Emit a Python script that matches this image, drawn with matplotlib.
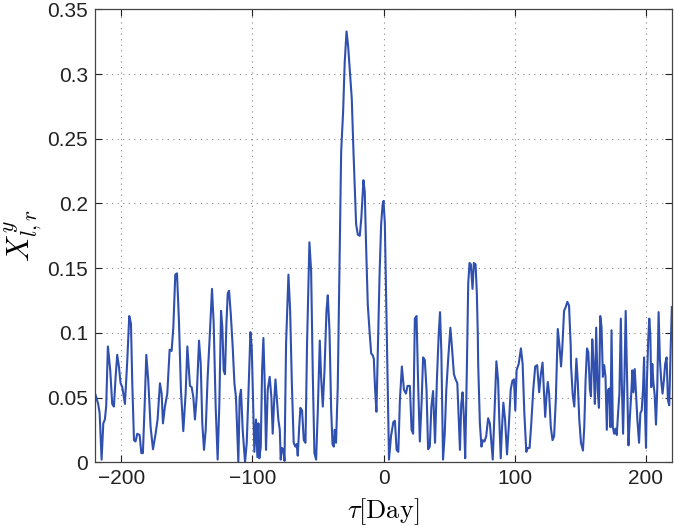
import matplotlib
matplotlib.use('Agg')
import matplotlib.pyplot as plt

# lag in days and the cross-correlation value
tau = [-219.6, -217.6, -216.5, -215.0, -213.7, -212.5, -211.5, -210.2, -208.4, -206.9,
       -205.6, -204.3, -203.1, -201.8, -200.5, -199.2, -197.2, -195.4, -193.9, -192.6,
       -191.6, -190.3, -189.1, -187.8, -186.0, -184.7, -183.5, -182.2, -180.9, -179.4,
       -177.6, -175.8, -173.8, -172.3, -170.5, -169.2, -168.2, -166.7, -164.9, -163.1,
       -161.6, -160.3, -158.8, -157.5, -156.0, -154.5, -152.7, -150.9, -149.6,
       -147.6, -146.3, -145.0, -143.8, -142.5, -140.7, -139.4, -138.2, -136.9, -135.6,
       -134.1, -132.3, -130.8, -129.5, -128.0, -126.5, -125.2, -123.9, -122.9, -121.9,
       -120.9, -119.8, -118.8, -117.8, -116.5, -115.0, -113.7, -112.5, -110.7, -109.7,
       -108.7, -107.4, -105.6, -104.3, -103.1, -101.5, -100.5, -99.5, -98.5, -97.2,
       -96.2, -95.4, -94.7, -93.6, -92.6, -91.6, -90.6, -89.6, -88.3, -86.8,
       -85.5, -84.5, -83.5, -82.4, -81.4, -80.2, -79.1, -78.4, -77.4, -76.3,
       -75.5, -74.3, -72.5, -71.2, -69.9, -68.5, -67.2, -66.2, -65.4, -64.4,
       -63.4, -62.1, -60.8, -59.5, -58.3, -56.5, -55.2, -53.9, -52.7, -51.4,
       -50.1, -48.6, -47.6, -46.3, -45.0, -43.5, -42.5, -41.2, -39.9, -38.9,
       -37.9, -37.2, -36.2, -34.9, -33.7, -32.3, -30.8, -29.6, -28.2, -27.0,
       -25.5, -24.2, -22.9, -21.9, -20.9, -19.6, -18.1, -16.9, -15.3, -14.3,
       -13.3, -12.0, -10.7, -9.4, -8.4, -7.4, -6.4, -5.4, -4.2, -3.0,
       -1.8, -0.7, 0.0, 1.0, 2.3, 4.2,
       5.7, 7.5, 8.7, 10.0, 11.3, 12.5, 14.0, 15.6, 17.1, 18.3,
       20.1, 21.4, 22.6, 23.9, 25.2, 26.4, 27.7, 29.0, 30.2, 31.5,
       32.8, 34.0, 35.3, 36.5, 37.8, 39.3, 40.8, 42.1, 43.1, 44.1,
       45.4, 46.7, 47.9, 49.4, 51.0, 52.2, 53.7, 55.0, 56.3, 57.3,
       58.3, 59.3, 60.3, 61.3, 62.3, 63.6, 64.6, 65.6, 66.6, 67.9,
       68.9, 70.2, 71.2, 71.9,
       72.2, 73.5, 74.7, 75.7, 77.0, 78.3, 79.8, 81.1, 82.1, 83.3,
       84.8, 86.1, 87.4, 88.4, 89.4, 90.4, 91.4, 92.7, 94.2, 95.5,
       97.0, 98.3, 99.5, 100.5, 101.5, 103.1, 104.8, 106.1, 107.4, 108.9,
       110.1, 111.4, 112.7, 114.2, 115.7, 117.2, 118.7, 120.0, 121.3, 122.3,
       123.3, 124.3, 125.3, 126.3, 127.6, 128.9, 130.1, 131.4, 132.9, 134.2,
       135.4, 136.4, 137.7, 139.0, 140.2, 141.5, 142.8, 143.0, 144.3, 145.5,
       147.1, 148.1, 149.3, 150.6, 152.1, 153.1, 154.1, 155.2, 156.2, 157.4,
       158.2, 159.2, 160.2, 161.2, 162.2, 163.3, 164.3, 165.3, 166.3, 167.3,
       168.3, 169.3, 170.3, 171.3, 172.4, 173.1, 173.9, 174.9, 175.9, 176.9,
       177.9, 178.9, 179.9, 181.0, 181.7, 182.7, 183.7, 184.7, 185.8, 186.8,
       187.8, 189.1, 189.8, 190.6, 191.6, 192.6, 193.6, 194.9, 195.9, 196.9,
       197.9, 198.7, 199.4, 200.2, 200.9, 201.9, 202.7, 203.5, 204.2, 205.0,
       205.7, 206.8, 207.8, 208.8, 209.8, 210.8, 211.8, 212.8, 213.8, 214.8,
       215.9, 216.9, 217.9, 218.9, 219.9]

xcorr = [0.052, 0.045, 0.038, 0.002, 0.030, 0.033, 0.043, 0.0895, 0.071, 0.045,
         0.043, 0.066, 0.083, 0.074, 0.061, 0.058, 0.045, 0.079, 0.113, 0.107,
         0.061, 0.017, 0.016, 0.022, 0.021, 0.007, 0.007, 0.043, 0.083, 0.063,
         0.027, 0.010, 0.022, 0.033, 0.061, 0.053, 0.030, 0.043, 0.053, 0.087,
         0.086, 0.104, 0.145, 0.146, 0.109, 0.056, 0.024, 0.053, 0.0895,
         0.059, 0.058, 0.050, 0.033, 0.050, 0.094, 0.076, 0.030, 0.0095, 0.025,
         0.066, 0.102, 0.134, 0.107, 0.043, 0.002, 0.045, 0.117, 0.104, 0.071,
         0.068, 0.107, 0.1305, 0.1326, 0.115, 0.089, 0.061, 0.050, 0.0, 0.050,
         0.056, 0.025, 0.0, 0.015, 0.050, 0.1005, 0.089, 0.050, 0.008, 0.033,
         0.004, 0.030, 0.003, 0.012, 0.071, 0.096, 0.061, 0.0095, 0.056, 0.066,
         0.050, 0.022, 0.045, 0.064, 0.050, 0.033, 0.025, 0.002, 0.011, 0.0095,
         0.001, 0.092, 0.145, 0.117, 0.061, 0.015, 0.012, 0.014, 0.005, 0.025,
         0.042, 0.040, 0.017, 0.015, 0.092, 0.170, 0.148, 0.066, 0.007, 0.002,
         0.040, 0.094, 0.066, 0.043, 0.071, 0.117, 0.129, 0.102, 0.040, 0.014,
         0.012, 0.025, 0.015, 0.058, 0.143, 0.240, 0.271, 0.309, 0.333, 0.322,
         0.300, 0.281, 0.240, 0.212, 0.184, 0.176, 0.175, 0.189, 0.218, 0.209,
         0.168, 0.122, 0.102, 0.084, 0.083, 0.080, 0.056, 0.039, 0.092, 0.145,
         0.184, 0.199, 0.202, 0.185, 0.110, 0.002,
         0.020, 0.031, 0.032, 0.0095, 0.008, 0.048, 0.074, 0.056, 0.053, 0.059,
         0.059, 0.025, 0.022, 0.111, 0.113, 0.061, 0.016, 0.045, 0.081, 0.079,
         0.056, 0.010, 0.012, 0.043, 0.055, 0.015, 0.066, 0.099, 0.116, 0.086,
         0.002, 0.022, 0.056, 0.081, 0.104, 0.089, 0.068, 0.064, 0.061, 0.035,
         0.0095, 0.045, 0.054, 0.035, 0.003, 0.074, 0.138, 0.154, 0.153, 0.134,
         0.154, 0.153, 0.130, 0.099,
         0.076, 0.030, 0.012, 0.017, 0.016, 0.020, 0.034, 0.030, 0.017, 0.002,
         0.043, 0.078, 0.063, 0.030, 0.003, 0.027, 0.046, 0.033, 0.006, 0.027,
         0.056, 0.063, 0.064, 0.040, 0.071, 0.076, 0.088, 0.076, 0.038, 0.008,
         0.011, 0.011, 0.030, 0.056, 0.074, 0.075, 0.054, 0.068, 0.077, 0.056,
         0.035, 0.051, 0.062, 0.053, 0.027, 0.017, 0.020, 0.048, 0.103, 0.090,
         0.074, 0.089, 0.117, 0.120, 0.124, 0.121, 0.089, 0.075, 0.052, 0.043,
         0.080, 0.063, 0.033, 0.015, 0.009, 0.027, 0.063, 0.088, 0.085, 0.056,
         0.051, 0.095, 0.076, 0.045, 0.104, 0.056, 0.042, 0.113, 0.104, 0.066,
         0.075, 0.066, 0.025, 0.056, 0.057, 0.027, 0.102, 0.027, 0.022, 0.026,
         0.021, 0.038, 0.053, 0.111, 0.063, 0.022, 0.063, 0.117, 0.063, 0.013,
         0.033, 0.056, 0.071, 0.054, 0.072, 0.053, 0.033, 0.015, 0.038, 0.040,
         0.056, 0.081, 0.040, 0.011, 0.063, 0.095, 0.111, 0.098, 0.058, 0.076,
         0.063, 0.052, 0.029, 0.058, 0.116, 0.079, 0.063, 0.053, 0.063, 0.076,
         0.081, 0.048, 0.044, 0.084, 0.120]

xticks = [-200, -100, 0, 100, 200]
yticks = [0, 0.05, 0.1, 0.15, 0.2, 0.25, 0.3, 0.35]
ytick_labels = ['0', '0.05', '0.1', '0.15', '0.2', '0.25', '0.3', '0.35']

plt.rcParams['font.family'] = ['Liberation Sans', 'DejaVu Sans']
plt.rcParams['mathtext.fontset'] = 'cm'

fig = plt.figure(figsize=(6.74, 5.27), dpi=100)
ax = fig.add_axes([0.141, 0.123, 0.856, 0.859])

ax.plot(tau, xcorr, color='#3050b0', linewidth=1.5)

ax.set_xlim(-220, 220)
ax.set_ylim(0, 0.35)
ax.set_xticks(xticks)
ax.set_yticks(yticks)
ax.set_yticklabels(ytick_labels)
ax.tick_params(direction='in', length=5, width=0.8, top=True, right=True,
               labelsize=15, colors='#222222', pad=5)
ax.grid(True, linestyle=(0, (1, 4)), color='#888888', linewidth=0.8)
for s in ax.spines.values():
    s.set_color('#444444')
    s.set_linewidth(0.9)

ax.set_xlabel(r'$\tau[\mathrm{Day}]$', fontsize=19, labelpad=6)
ax.set_ylabel(r'$X^{y}_{l,r}$', fontsize=22, va='center')
ax.yaxis.set_label_coords(-0.125, 0.5)

fig.savefig('out.png', dpi=100)
